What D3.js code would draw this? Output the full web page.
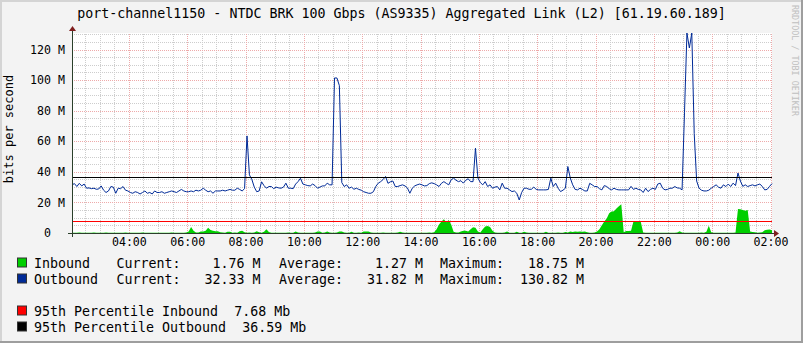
<!DOCTYPE html>
<html lang="en">
<head>
<meta charset="UTF-8">
<title>port-channel1150 traffic</title>
<script src="https://d3js.org/d3.v7.min.js"></script>
<style>
  body { margin: 0; background: #f3f3f3; }
  svg text { font-family: "DejaVu Sans Mono", monospace; white-space: pre; }
</style>
</head>
<body>
<div id="chart"></div>
<script>
// ---- data (Mbit/s, 5 minute samples, one row per hour) ----
const title = "port-channel1150 - NTDC BRK 100 Gbps (AS9335) Aggregated Link (L2) [61.19.60.189]";
const startTime = new Date(2024, 0, 1, 2, 3);
const stepMinutes = 5;

const outbound = [
  31.5, 32.3, 30.4, 32.5, 30.8, 32, 29.3, 29.5, 29, 29.3, 28.6, 28.8,
  30.8, 28, 26.5, 27.5, 30.4, 30, 26, 29.3, 29, 30.4, 28, 27.5,
  26.5, 26, 27, 26.5, 25.5, 26.5, 27.5, 26, 26.5, 25.5, 27.5, 26.5,
  26.5, 27, 26, 26.5, 27, 27.5, 27, 26.5, 27.5, 28.5, 27.5, 27,
  27, 27.5, 27, 28, 27.5, 28, 29.3, 28, 27, 27.5, 26, 27.5,
  27.5, 27.5, 28, 27.5, 28, 28.5, 28, 28, 29.3, 28.5, 27.5, 29,
  63.5, 38, 35, 30, 27, 27.5, 33.5, 31, 29.3, 30.4, 30.4, 29,
  30, 29.5, 29.3, 30, 32.6, 29.3, 29.3, 29, 32, 33.6, 35.8, 32,
  31.5, 31, 30.8, 32, 31, 29.3, 30, 30.8, 30.8, 32.6, 31.5, 31.5,
  101.4, 101.4, 96.4, 33, 30.4, 31.5, 29.3, 30, 28.6, 29.3, 28.5, 28,
  27, 26.5, 26, 26, 27, 30.5, 32.6, 33.6, 35, 37, 32.5, 33.5,
  34, 30.4, 30.4, 31, 31.5, 30.8, 29.5, 26, 29.3, 30.8, 31.5, 32,
  31.5, 30.8, 31, 32.3, 32.8, 32.3, 31.5, 30.4, 32.5, 33.6, 32.5, 31.5,
  34.8, 35.9, 34.5, 33.6, 34.2, 32.6, 34.5, 35.5, 33.6, 33.6, 55.5, 36,
  33, 31.5, 33.6, 30.4, 31.5, 29.3, 30, 30.4, 28.2, 32.6, 29.3, 29.3,
  28.2, 27.1, 27.5, 26, 21.6, 26.5, 29.3, 29.3, 28.6, 28.6, 30, 28.5,
  28.2, 28.2, 28.2, 28.2, 28.5, 35.9, 30.4, 32.6, 29.3, 27.1, 28, 29.3,
  43.5, 36, 31.5, 28.5, 28.2, 29.3, 28.5, 27.5, 27.5, 32.5, 31.5, 30.4,
  30.4, 29, 28.2, 31, 30.4, 29, 28.2, 29.3, 28.5, 28.2, 28.2, 28.2,
  28.2, 28.2, 30.5, 28.5, 29.3, 28.5, 28.2, 26.5, 29.3, 27.1, 28.5, 29.3,
  28.5, 32, 32.6, 29.3, 28.2, 28.5, 29.3, 29.3, 30.4, 29.5, 29.3, 28.2,
  79, 130.82, 121, 130.82, 65, 34, 29.3, 28, 27.5, 27.5, 28, 29.3,
  30.4, 31.5, 30, 29.3, 31.5, 30.4, 32, 30.4, 32.6, 31, 39.2, 34,
  30.5, 31.5, 30.4, 31, 31.5, 30.8, 31.5, 32, 30.5, 28.2, 28.5, 30.5,
  32.33
];

const inbound = [
  0.2, 0.1, 0.2, 0.3, 0.1, 0.2, 0.1, 0.2, 0.1, 0.3, 0.2, 0.1,
  0.2, 0.1, 0.4, 0.2, 0.1, 0.2, 0.1, 0.1, 0.2, 0.1, 0.3, 0.1,
  0.1, 0.2, 0.1, 0.1, 0.2, 0.3, 0.1, 0.2, 0.1, 0.1, 0.2, 0.1,
  0.2, 0.1, 0.1, 0.2, 0.1, 0.3, 0.2, 0.1, 0.2, 0.1, 0.2, 0.4,
  1, 4, 1.5, 0.3, 0.4, 0.9, 0.9, 1.5, 3.4, 2, 1.5, 1.2,
  1.2, 0.5, 0.3, 0.2, 0.8, 0.8, 0.2, 0.3, 0.2, 1.2, 1.5, 0.5,
  0.2, 0.3, 0.2, 0.3, 1.2, 0.5, 0.2, 0.8, 2.5, 0.6, 0.2, 0.1,
  0.1, 0.2, 0.1, 0.2, 0.1, 0.3, 0.2, 0.1, 0.9, 0.3, 0.1, 0.2,
  0.1, 0.2, 0.1, 0.2, 0.3, 1, 1, 0.2, 0.3, 0.9, 0.3, 0.1,
  0.2, 0.3, 1, 1, 0.3, 0.2, 0.1, 0.8, 0.2, 0.1, 0.3, 0.2,
  1, 1, 1, 0.3, 0.2, 0.1, 0.2, 0.1, 0.3, 0.2, 0.1, 0.2,
  0.1, 0.2, 0.3, 0.8, 0.3, 0.1, 0.2, 0.1, 0.2, 0.1, 0.2, 0.1,
  0.2, 0.1, 0.2, 0.3, 0.2, 0.5, 2.5, 5.5, 7.5, 9, 7, 8.5,
  5.5, 0.8, 0.3, 0.4, 1, 1.4, 1.4, 1, 2.5, 3.7, 3.5, 1,
  0.3, 2.5, 4.3, 4.6, 4, 1.5, 0.3, 0.2, 0.1, 0.2, 0.3, 0.9,
  0.2, 0.1, 0.2, 0.8, 0.2, 0.1, 0.8, 0.3, 0.1, 0.2, 0.1, 0.2,
  0.1, 0.2, 0.1, 0.8, 0.2, 0.1, 0.2, 0.1, 0.3, 0.2, 0.1, 0.7,
  0.3, 0.9, 0.6, 1, 0.8, 1, 0.8, 1, 0.5, 0.2, 0.1, 0.3,
  1, 2.5, 5, 7.5, 9.5, 13, 14, 14.3, 16, 17.5, 18.75, 0.5,
  1.3, 1.3, 1.5, 7.5, 7.7, 7.7, 7.3, 0.3, 0.2, 0.1, 0.2, 0.1,
  0.1, 0.2, 0.1, 0.2, 0.1, 0.1, 0.2, 0.1, 0.2, 0.3, 1.2, 0.3,
  0.2, 0.1, 0.2, 0.1, 0.2, 0.1, 0.2, 0.3, 0.1, 0.8, 4.7, 0.5,
  0.2, 0.1, 0.2, 0.1, 0.2, 0.1, 0.2, 0.1, 0.2, 0.3, 15.7, 15.5,
  15, 14.6, 15, 1, 0.6, 0.5, 0.2, 0.3, 0.5, 1.8, 2.2, 2.3,
  1.76
];

const yTicks = [0, 20, 40, 60, 80, 100, 120];
const yMax = 130.82;

const seriesNames = ["Inbound", "Outbound"];
const seriesColors = ["#00CF00", "#002A97"];
const statCurrent = [1.76, 32.33];
const statAverage = [1.27, 31.82];
const statMaximum = [18.75, 130.82];

const pctNames = ["95th Percentile Inbound", "95th Percentile Outbound"];
const pctColors = ["#FF0000", "#000000"];
const pctValues = [7.68, 36.59];

// ---- layout ----
const W = 803, H = 343;
const x0 = 72, y0 = 233, plotW = 700, plotH = 200;

const svg = d3.select("#chart").append("svg")
    .attr("width", W)
    .attr("height", H);

// background and shaded frame
svg.append("rect").attr("width", W).attr("height", H).attr("fill", "#f3f3f3");
svg.append("path").attr("d", `M1,${H} V1 H${W}`)
    .attr("fill", "none").attr("stroke", "#d4d4d4").attr("stroke-width", 2);
svg.append("path").attr("d", `M0,${H - 1} H${W - 1} V0`)
    .attr("fill", "none").attr("stroke", "#9e9e9e").attr("stroke-width", 2);

const endTime = d3.timeMinute.offset(startTime, stepMinutes * (outbound.length - 1));
const x = d3.scaleTime().domain([startTime, endTime]).range([x0, x0 + plotW]);
const y = d3.scaleLinear().domain([0, yMax]).range([y0, y0 - plotH]);
const tAt = i => d3.timeMinute.offset(startTime, i * stepMinutes);

// canvas
svg.append("rect")
    .attr("x", x0).attr("y", y0 - plotH)
    .attr("width", plotW).attr("height", plotH)
    .attr("fill", "#ffffff");

// grid
const grid = svg.append("g").attr("shape-rendering", "crispEdges");
const majorHours = d3.timeHour.every(2).range(startTime, endTime);
const minorTimes = d3.timeMinute.every(30).range(startTime, endTime)
    .filter(t => !(t.getMinutes() === 0 && t.getHours() % 2 === 0));
const minorVals = d3.range(5, yMax, 5).filter(v => v % 20 !== 0);
const majorVals = yTicks.filter(v => v > 0);
const minorCol = "#cdcdcd", majorCol = "#eeaaaa";

grid.selectAll(".vmin").data(minorTimes).join("line")
    .attr("x1", d => Math.round(x(d)) + 0.5).attr("x2", d => Math.round(x(d)) + 0.5)
    .attr("y1", y0).attr("y2", y0 - plotH)
    .attr("stroke", minorCol).attr("stroke-dasharray", "1,1");
grid.selectAll(".hmin").data(minorVals).join("line")
    .attr("x1", x0).attr("x2", x0 + plotW)
    .attr("y1", d => Math.round(y(d)) + 0.5).attr("y2", d => Math.round(y(d)) + 0.5)
    .attr("stroke", minorCol).attr("stroke-dasharray", "1,1");
grid.selectAll(".vmaj").data(majorHours).join("line")
    .attr("x1", d => Math.round(x(d)) + 0.5).attr("x2", d => Math.round(x(d)) + 0.5)
    .attr("y1", y0).attr("y2", y0 - plotH)
    .attr("stroke", majorCol).attr("stroke-dasharray", "1,1");
grid.selectAll(".hmaj").data(majorVals).join("line")
    .attr("x1", x0).attr("x2", x0 + plotW)
    .attr("y1", d => Math.round(y(d)) + 0.5).attr("y2", d => Math.round(y(d)) + 0.5)
    .attr("stroke", majorCol).attr("stroke-dasharray", "1,1");

// inbound area
const area = d3.area()
    .x((d, i) => x(tAt(i)))
    .y0(y0)
    .y1(d => y(d));
svg.append("path").datum(inbound)
    .attr("d", area)
    .attr("fill", seriesColors[0]);

// outbound line
const line = d3.line()
    .x((d, i) => x(tAt(i)))
    .y(d => y(d));
svg.append("path").datum(outbound)
    .attr("d", line)
    .attr("fill", "none")
    .attr("stroke", seriesColors[1])
    .attr("stroke-width", 1);

// 95th percentile rules
svg.append("g").selectAll("line").data(pctValues).join("line")
    .attr("x1", x0).attr("x2", x0 + plotW)
    .attr("y1", d => Math.round(y(d)) + 0.5).attr("y2", d => Math.round(y(d)) + 0.5)
    .attr("stroke", (d, i) => pctColors[i])
    .attr("shape-rendering", "crispEdges");

// axis lines and arrows
const axisCol = "#2a3f2a", arrowCol = "#7f1f1f";
svg.append("path")
    .attr("d", `M${x0 - 4},${y0 + 0.5} H${x0 + plotW + 4} M${x0 + 0.5},${y0 + 4} V${y0 - plotH - 4}`)
    .attr("stroke", axisCol).attr("fill", "none").attr("shape-rendering", "crispEdges");
svg.append("path")
    .attr("d", `M${x0 + plotW + 2},${y0 - 3} L${x0 + plotW + 2},${y0 + 4} L${x0 + plotW + 7},${y0 + 0.5} Z`)
    .attr("fill", arrowCol);
svg.append("path")
    .attr("d", `M${x0 - 3},${y0 - plotH - 2} L${x0 + 4},${y0 - plotH - 2} L${x0 + 0.5},${y0 - plotH - 7} Z`)
    .attr("fill", arrowCol);

// y axis labels
const yAxis = svg.append("g")
    .attr("transform", `translate(${x0},0)`)
    .call(d3.axisLeft(y).tickValues(yTicks).tickSize(0).tickPadding(7)
        .tickFormat(v => v === 0 ? "0" : `${v} M`));
yAxis.select(".domain").remove();
yAxis.selectAll("text")
    .attr("font-family", "DejaVu Sans Mono").attr("font-size", 11.6).attr("fill", "#000");
yAxis.selectAll(".tick text").filter(d => d === 0).attr("dx", -14);

// x axis labels
const xAxis = svg.append("g")
    .attr("transform", `translate(0,${y0})`)
    .call(d3.axisBottom(x).tickValues(majorHours).tickSize(0).tickPadding(5)
        .tickFormat(d3.timeFormat("%H:%M")));
xAxis.select(".domain").remove();
xAxis.selectAll("text")
    .attr("font-family", "DejaVu Sans Mono").attr("font-size", 11.6).attr("fill", "#000");

// title
svg.append("text")
    .attr("x", W / 2).attr("y", 18)
    .attr("text-anchor", "middle")
    .attr("font-size", 13.3)
    .text(title);

// vertical unit label
svg.append("text")
    .attr("transform", `translate(13,${y0 - plotH / 2 - 4}) rotate(-90)`)
    .attr("text-anchor", "middle")
    .attr("font-size", 12)
    .text("bits per second");

// watermark
svg.append("text")
    .attr("transform", `translate(792,5) rotate(90)`)
    .attr("font-size", 8.4)
    .attr("fill", "#c0c0c0")
    .text("RRDTOOL / TOBI OETIKER");

// legend
const fmt = d3.format("8.2f");
const legend = svg.append("g").attr("font-size", 13.3);
const rowY = [267.5, 283.5, 315.5, 331.5];

seriesNames.forEach((name, i) => {
    const g = legend.append("g").attr("transform", `translate(0,${rowY[i]})`);
    g.append("rect").attr("x", 17.5).attr("y", -9.5).attr("width", 9).attr("height", 9)
        .attr("fill", seriesColors[i]).attr("stroke", "#333");
    g.append("text").attr("x", 34).text(name);
    g.append("text").attr("x", 116.5).text(`Current:${fmt(statCurrent[i])} M`);
    g.append("text").attr("x", 279).text(`Average:${fmt(statAverage[i])} M`);
    g.append("text").attr("x", 440).text(`Maximum:${fmt(statMaximum[i])} M`);
});

pctNames.forEach((name, i) => {
    const g = legend.append("g").attr("transform", `translate(0,${rowY[i + 2]})`);
    g.append("rect").attr("x", 17.5).attr("y", -9.5).attr("width", 9).attr("height", 9)
        .attr("fill", pctColors[i]).attr("stroke", "#333");
    g.append("text").attr("x", 34).text(`${name}  ${pctValues[i].toFixed(2)} Mb`);
});
</script>
</body>
</html>
